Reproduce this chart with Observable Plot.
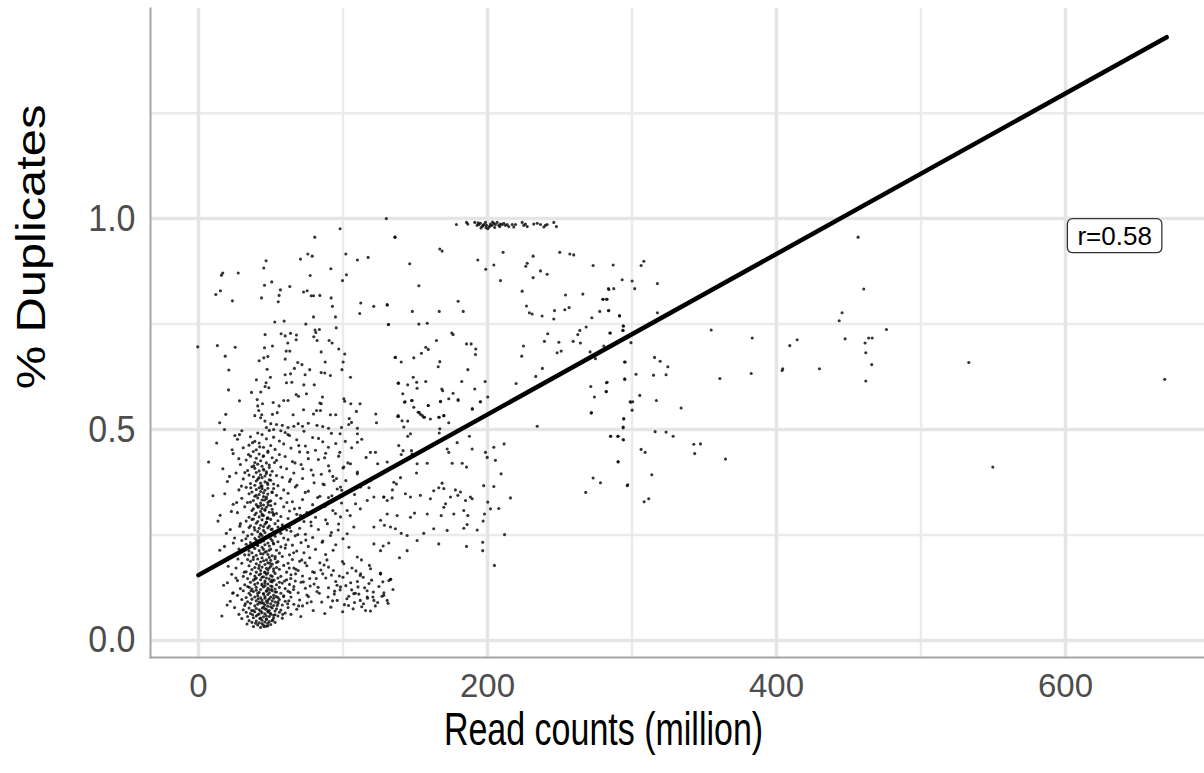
<!DOCTYPE html>
<html><head><meta charset="utf-8">
<script src="https://cdn.jsdelivr.net/npm/d3@7"></script>
<script src="https://cdn.jsdelivr.net/npm/@observablehq/plot@0.6"></script>
<style>
html,body{margin:0;padding:0;background:#fff;}
#chart svg{display:block;overflow:visible;}
</style></head><body><div id="chart"></div>
<script>
const xTicks = [0, 200, 400, 600];
const xMinor = [100, 300, 500];
const yTicks = [0, 0.5, 1.0];
const yMinor = [0.25, 0.75, 1.25];
const xTitle = "Read counts (million)";
const yTitle = "% Duplicates";
const fitX = [0, 670];
const fitY = [0.155, 1.43];
const rLabel = "r=0.58";
const rLabelX = 634;
const rLabelY = 0.958;

// upper scatter, x < 140
const upperLeft = [[98,0.976],[80.5,0.956],[136,0.956],[75.7,0.916],[78.7,0.911],[70.6,0.904],[102,0.916],[110,0.902],[117.4,0.908],[46.8,0.9],[45.2,0.883],[91.6,0.881],[16.8,0.871],[15.9,0.866],[27.5,0.871],[77.3,0.865],[102.4,0.867],[99.7,0.853],[50.7,0.85],[45.7,0.842],[63.2,0.839],[56.7,0.831],[15.2,0.829],[12,0.82],[23.5,0.805],[43.6,0.812],[55.8,0.818],[55.2,0.803],[72.7,0.826],[75.2,0.829],[78,0.817],[79.6,0.817],[84,0.818],[91.8,0.812],[92.7,0.792],[112.3,0.8],[111.6,0.775],[121.3,0.792],[130.6,0.795],[131.5,0.749],[79.6,0.767],[94.8,0.767],[52.8,0.755],[59.3,0.757],[74.3,0.75],[95.3,0.741],[80.7,0.736],[83.7,0.737],[81.2,0.73],[63.7,0.728],[57.2,0.727],[67.8,0.724],[46.1,0.725],[60,0.722],[-0.5,0.696],[13.1,0.699],[25.4,0.695],[61.8,0.705],[67.6,0.713],[79.8,0.72],[82.1,0.711],[90.4,0.711],[92.5,0.705],[45.7,0.694],[51.2,0.698],[48,0.673],[45.2,0.67],[63.2,0.686],[60.7,0.686],[97.1,0.691],[101.2,0.679],[18.5,0.674],[21,0.641],[20.8,0.594],[84.9,0.684],[60,0.667],[42,0.663],[68.7,0.659],[71.6,0.654],[66.4,0.645],[47.5,0.643],[87.7,0.66],[100.1,0.66],[99.3,0.642],[77,0.642],[84.9,0.635],[87.4,0.634],[91.3,0.628],[60,0.63],[63.7,0.632],[73.8,0.63],[105.2,0.624],[49.8,0.624],[46.8,0.611],[60.9,0.611],[64.6,0.612],[72.9,0.606],[80.1,0.606],[46.1,0.602],[48.7,0.599],[40.1,0.618],[36.7,0.588],[43.1,0.589],[67.6,0.583],[69.2,0.579],[74.7,0.585],[85.8,0.577],[84.9,0.561],[84,0.563],[100.6,0.573],[101.2,0.567],[28.4,0.568],[40.6,0.571],[44.3,0.561],[51.7,0.564],[59,0.569],[62,0.569],[55.8,0.556],[41,0.556],[41.7,0.545],[105.4,0.561],[111.8,0.561],[72.7,0.547],[79.6,0.537],[81.7,0.545],[84.4,0.545],[18.9,0.536],[14.7,0.516],[18,0.5],[28.4,0.488],[43.8,0.535],[51.2,0.536],[54.5,0.54],[65.5,0.535],[91.3,0.535],[95,0.535],[109.3,0.543],[104.3,0.526],[105.9,0.517],[122.7,0.537],[123.2,0.516],[137.9,0.531],[136.1,0.671],[138.2,0.61],
[39,0.533],[43,0.528],[46,0.52],[50,0.514],[54,0.512],[58,0.51],[62,0.505],[66,0.508],[69,0.514],[72,0.508],[76,0.515],[82,0.51],[86,0.507],[90,0.503],[99,0.505],[104,0.512],[110,0.503],[52,0.5],[57,0.497],[47,0.505]];

// band near 1.0 around 200 million
const band = [[130,1.0],[178.5,0.986],[185.5,0.991],[186.4,0.987],[191.2,0.991],[192.9,0.984],[194,0.986],[195.1,0.989],[196.3,0.981],[197.5,0.986],[198.6,0.991],[199.3,0.984],[200.2,0.976],[201.2,0.98],[202.1,0.987],[203.2,0.984],[204.4,0.989],[205.5,0.986],[206.7,0.991],[207.8,0.984],[209,0.987],[210.2,0.986],[211.3,0.989],[212.4,0.984],[213.6,0.986],[214.7,0.981],[217.1,0.986],[218.2,0.98],[219.4,0.986],[224,0.991],[225.1,0.984],[226.3,0.987],[227.5,0.981],[232,0.987],[234.4,0.989],[236.7,0.986],[239,0.98],[240.1,0.984],[241.3,0.986],[245.9,0.991],[247.7,0.981],[195.5,0.978],[199,0.979],[201.8,0.983],[205,0.979],[208.5,0.981],[193.5,0.99],[197,0.984],[203.5,0.992]];

// middle scatter 125-365
const middle = [[136,0.956],[167,0.928],[168.6,0.923],[146.2,0.893],[193.3,0.902],[198.8,0.88],[204.4,0.89],[210.8,0.92],[209,0.853],[227.5,0.894],[226.5,0.887],[231.6,0.911],[236.7,0.876],[241.3,0.868],[231.6,0.86],[250,0.92],[257,0.916],[259.7,0.914],[273.1,0.889],[287,0.89],[293.2,0.855],[152.5,0.841],[224,0.828],[254,0.819],[266,0.821],[284,0.832],[287.4,0.834],[179.7,0.804],[280,0.809],[282.8,0.809],[130.6,0.796],[148,0.78],[166.6,0.78],[183.2,0.78],[227,0.793],[229,0.777],[230.9,0.774],[237.8,0.769],[245.9,0.762],[246.4,0.782],[253.5,0.784],[256.5,0.789],[272.2,0.765],[277.7,0.78],[284,0.782],[291.5,0.769],[131.5,0.749],[152.5,0.75],[158.3,0.752],[175.3,0.729],[176.2,0.725],[185.5,0.703],[188.7,0.703],[191.9,0.691],[191.7,0.678],[164.7,0.711],[157.3,0.695],[159,0.69],[154.3,0.681],[136.3,0.671],[140.3,0.66],[149,0.67],[167,0.661],[165.9,0.649],[186.4,0.642],[138.4,0.61],[144.8,0.606],[148.6,0.624],[151,0.612],[157.3,0.614],[151.3,0.598],[168.4,0.596],[169,0.592],[176.2,0.586],[182.2,0.614],[191.2,0.596],[198.4,0.614],[141.4,0.585],[143,0.566],[147.4,0.569],[149,0.553],[159,0.557],[167.5,0.567],[173.2,0.573],[179.7,0.571],[195.1,0.566],[200.2,0.577],[189.6,0.549],[152.7,0.541],[155,0.533],[156.4,0.529],[166.6,0.529],[169.8,0.533],[138.4,0.531],
[219.8,0.609],[223.7,0.674],[224.9,0.698],[233.4,0.626],[238,0.645],[239.4,0.709],[241.7,0.727],[248.2,0.682],[251,0.686],[249.4,0.707],[259.3,0.709],[262.5,0.725],[263.9,0.735],[264.3,0.705],[268.3,0.743],[271,0.684],[271.5,0.602],[274,0.577],[274.7,0.668],[282.8,0.612],[282.1,0.59],[285.1,0.729],[293.6,0.735],[294.1,0.745],[295.3,0.66],[295,0.62],[272,0.54],[298.7,0.566],
[142.6,0.565],[147.9,0.569],[159,0.557],[167.5,0.566],[179.7,0.569],[189.4,0.549],[195.1,0.566],[138.2,0.533],[140.9,0.521],[144.8,0.52],[152,0.541],[153.6,0.536],[155.9,0.529],[160.5,0.525],[166.3,0.529],[169.8,0.533],[173.2,0.516],[142.1,0.506],[146.7,0.49],[144.8,0.484],[167,0.502],[166.6,0.492],[187.5,0.484],[271.7,0.539],[294.3,0.525],[293.9,0.504],[234.4,0.508],[285.1,0.484],[290.2,0.484],[293.9,0.476],[290.4,0.423],[273.1,0.385],[268,0.351],[296.7,0.367],
[138.6,0.462],[141.6,0.45],[140.3,0.441],[147.4,0.45],[147.9,0.442],[172.1,0.454],[173.2,0.446],[179,0.469],[189.4,0.454],[198.6,0.446],[199.8,0.434],[204.4,0.458],[211.5,0.466],[130.6,0.423],[151.3,0.419],[158.3,0.42],[175.6,0.42],[182.5,0.42],[185.5,0.411],[150.9,0.397],[139.8,0.386],[135.2,0.375],[137,0.371],[128.2,0.34],[134.2,0.357],[134,0.338],[143.2,0.348],[146.7,0.34],[153.6,0.344],[160.5,0.336],[162.8,0.355],[166.3,0.362],[168.6,0.373],[169.8,0.36],[174.4,0.34],[177.8,0.357],[179.5,0.344],[181.3,0.352],[184.8,0.332],[188.2,0.34],[189.4,0.336],[197.4,0.367],[204.4,0.365],[205.5,0.427],[209.4,0.395],[215.9,0.338],[200.2,0.328],[202.1,0.312],[207.8,0.313],[197.9,0.3],
[130.6,0.3],[137.5,0.296],[146.7,0.292],[149.5,0.302],[158.3,0.3],[168,0.296],[171,0.324],[169.8,0.316],[176.7,0.3],[183.6,0.308],[186.4,0.296],[128.7,0.273],[132.9,0.269],[136.3,0.265],[140.3,0.254],[144.4,0.249],[151.3,0.237],[155.9,0.254],[162.8,0.265],[172.1,0.261],[183.6,0.266],[185.9,0.275],[192.9,0.262],[197,0.283],[196.7,0.233],[196.7,0.213],[185.5,0.223],[166.3,0.229],[144.4,0.213],[139.1,0.196],[131.7,0.231],[127.8,0.224],[132.9,0.145],[126,0.158],[128.2,0.107],[204.8,0.178],[211.8,0.251],
[306.3,0.889],[308.2,0.899],[300.1,0.852],[301.9,0.834],[283.7,0.834],[279.8,0.809],[282.3,0.809],[283.7,0.782],[291.3,0.77],[317.6,0.846],[317.6,0.777],[293.9,0.746],[293.9,0.735],[284.6,0.729],[280.5,0.698],[299.3,0.706],[294.8,0.66],[295,0.619],[282.3,0.611],[282.3,0.59],[302.8,0.631],[314.9,0.629],[315.6,0.671],[319.5,0.662],[324.8,0.649],[323.6,0.63],[305.4,0.581],[299.2,0.565],[300.5,0.566],[300.1,0.546],[316.9,0.569],[334,0.551],[294.3,0.526],[293.9,0.506],[285.3,0.484],[290.4,0.484],[294.1,0.476],[290.4,0.424],[297.1,0.369],[316,0.495],[323.6,0.494],[328.5,0.484],[306.3,0.453],[309.1,0.446],[342.8,0.465],[347.4,0.466],[343.4,0.443],[364.7,0.43],[313.7,0.393],[308.4,0.329],[311.6,0.336],[278.2,0.374],
[98,0.49],[110,0.49],[110,0.47],[119,0.446],[122.5,0.446],[100.6,0.411],[105.2,0.419],[93.7,0.379],[98.3,0.364],[109.9,0.395],[112.2,0.364],[119.1,0.379],[121.4,0.34],[116.8,0.332],[102.9,0.308],[108.7,0.324],[98.3,0.293],[107.5,0.269],[102.9,0.253],[121.4,0.269],[126,0.285],[128.3,0.34],[130.6,0.332],[104.1,0.221],[109.9,0.198],[100.6,0.182],[112.2,0.158],[119.1,0.17],[126,0.158],[131.8,0.142],[98.3,0.127],[107.5,0.111],[116.8,0.103],[121.4,0.095],[130.6,0.095],[126,0.213],[121.4,0.229],
[92,0.155],[95,0.14],[98,0.12],[100,0.15],[102,0.13],[104,0.105],[106,0.12],[108,0.09],[110,0.14],[111,0.11],[113,0.08],[115,0.125],[117,0.1],[119,0.07],[121,0.115],[96,0.095],[101,0.085],[107,0.075],[112,0.095],[118,0.135],[124,0.09],[127,0.105],[126,0.16],[133,0.145],[90,0.125],[94,0.11],[103,0.16],[109,0.165],[114,0.15],
[62.5,.094],[65.8,.121],[69.3,.082],[72.6,.139],[76.1,.104],[79.4,.071],[82.8,.126],[85.3,.091],[88.1,.148],[91.6,.079],[94.2,.117],[97.5,.153],[99.8,.068],[102.7,.099],[105.3,.137],[108.6,.112],[111.9,.154],[114.2,.087],[116.7,.118],[119.8,.143],[122.4,.082],[124.9,.128],[128.3,.113],[131.2,.088],[134.6,.121],[67.4,.169],[73.8,.184],[80.2,.161],[86.9,.179],[93.4,.166],[99.6,.187],[106.2,.172],[112.8,.191],[118.3,.178],[58.9,.104],[63.9,.147],[70.8,.057],[77.3,.129],[83.6,.112],[89.7,.103],[95.9,.131],[103.8,.083],[110.4,.127],[115.6,.071],[120.7,.103],[127.6,.139],[75.2,.089],[81.5,.147],[87.4,.064],[92.8,.094]];

// far right outliers
const farRight = [[456.5,0.956],[460.4,0.833],[445.4,0.777],[443.4,0.758],[447.5,0.715],[461.3,0.705],[463.8,0.717],[466.2,0.717],[461.8,0.682],[465.9,0.654],[461.8,0.615],[476.1,0.737],[409.2,0.699],[414.3,0.713],[429.7,0.644],[403.9,0.64],[404.3,0.644],[383.2,0.717],[382.5,0.633],[354.8,0.736],[360.8,0.621],[533.1,0.659],[549.7,0.411],[668.7,0.619]];

// dense cluster below 0.5
const dense = [
[38,.033],[41,.037],[43,.031],[45,.036],[47,.034],[50,.038],
[35,.047],[37,.043],[40,.046],[42,.042],[44,.048],[46,.044],[48,.041],[51,.047],[53,.043],
[30,.052],[34,.057],[38,.054],[40,.058],[43,.053],[45,.056],[47,.051],[49,.057],[52,.054],[55,.058],[58,.053],
[28,.062],[33,.067],[36,.064],[39,.068],[41,.061],[44,.066],[46,.063],[48,.069],[50,.064],[53,.061],[56,.067],[60,.065],[64,.062],
[25,.078],[31,.073],[35,.077],[38,.071],[40,.076],[42,.073],[45,.079],[47,.074],[49,.071],[51,.077],[54,.075],[57,.072],[62,.078],[68,.074],
[32,.083],[36,.088],[39,.082],[41,.086],[43,.089],[46,.084],[48,.081],[50,.087],[52,.083],[55,.088],[58,.084],[66,.086],[72,.082],
[22,.093],[30,.097],[34,.092],[37,.098],[40,.094],[42,.091],[44,.096],[47,.093],[49,.099],[51,.094],[53,.091],[56,.097],[60,.093],[70,.096],[78,.092],
[27,.107],[33,.102],[36,.108],[39,.103],[41,.106],[43,.101],[46,.104],[48,.109],[50,.103],[52,.107],[55,.102],[59,.106],[64,.103],[75,.108],
[24,.113],[31,.118],[35,.112],[38,.116],[40,.119],[42,.114],[45,.111],[47,.117],[49,.113],[51,.118],[54,.115],[57,.112],[62,.117],[69,.113],[82,.116],
[29,.123],[34,.128],[37,.122],[40,.126],[43,.121],[45,.127],[48,.124],[50,.129],[53,.122],[56,.126],[60,.123],[66,.128],[74,.124],
[20,.137],[32,.132],[36,.138],[39,.133],[41,.136],[44,.131],[46,.137],[48,.134],[51,.139],[54,.132],[58,.136],[63,.133],[71,.138],[80,.134],
[27,.142],[34,.147],[38,.143],[40,.148],[43,.144],[46,.141],[49,.146],[51,.143],[55,.148],[61,.144],[67,.141],[77,.147],
[23,.157],[31,.152],[36,.158],[39,.153],[42,.156],[45,.151],[47,.157],[50,.154],[53,.159],[57,.152],[64,.156],[72,.153],[86,.158],
[33,.163],[37,.168],[40,.162],[43,.166],[46,.161],[48,.167],[52,.164],[56,.169],[61,.162],[69,.166],[79,.163],
[26,.172],[35,.177],[39,.173],[42,.178],[44,.174],[47,.171],[50,.176],[54,.173],[59,.178],[66,.172],[75,.177],[90,.174],
[30,.183],[36,.188],[40,.182],[43,.186],[45,.189],[48,.184],[51,.181],[55,.187],[62,.183],[70,.188],[84,.184],
[21,.197],[34,.192],[38,.198],[41,.193],[44,.196],[47,.191],[49,.197],[53,.194],[58,.199],[65,.192],[77,.196],
[32,.203],[37,.208],[40,.202],[43,.206],[46,.209],[48,.204],[51,.201],[56,.207],[63,.203],[73,.208],[88,.204],
[28,.217],[35,.212],[39,.218],[42,.213],[45,.216],[47,.211],[50,.217],[54,.214],[60,.219],[68,.212],[81,.216],
[18,.223],[33,.228],[38,.222],[41,.226],[44,.221],[46,.227],[49,.224],[52,.229],[57,.222],[65,.226],[76,.223],[95,.227],
[30,.237],[36,.232],[40,.238],[43,.233],[45,.236],[48,.231],[51,.237],[55,.234],[62,.239],[71,.232],[86,.236],
[25,.243],[34,.248],[39,.242],[42,.246],[44,.249],[47,.244],[50,.241],[53,.247],[59,.243],[67,.248],[79,.244],[100,.241],
[31,.257],[37,.252],[41,.258],[43,.253],[46,.256],[49,.251],[52,.257],[57,.254],[64,.259],[74,.252],[92,.256],
[22,.263],[35,.268],[39,.262],[42,.266],[45,.261],[48,.267],[51,.264],[55,.269],[61,.262],[70,.266],[83,.263],
[29,.277],[36,.272],[40,.278],[43,.273],[46,.276],[49,.271],[53,.277],[58,.274],[66,.279],[78,.272],[97,.276],
[33,.283],[38,.288],[41,.282],[44,.286],[47,.281],[50,.287],[55,.284],[62,.289],[73,.282],[88,.286],
[15,.297],[35,.292],[39,.298],[42,.293],[45,.296],[48,.291],[52,.297],[57,.294],[68,.299],[81,.292],[105,.296],
[27,.303],[37,.308],[40,.302],[43,.306],[46,.309],[49,.304],[54,.301],[63,.307],[75,.303],[93,.308],
[32,.317],[38,.312],[41,.318],[44,.313],[47,.316],[51,.311],[59,.317],[70,.314],[86,.319],[112,.312],
[24,.323],[36,.328],[40,.322],[43,.326],[45,.321],[48,.327],[53,.324],[65,.329],[79,.322],[99,.326],
[30,.337],[38,.332],[41,.338],[44,.333],[47,.336],[50,.331],[57,.337],[72,.334],[90,.339],
[10,.343],[35,.348],[39,.342],[42,.346],[45,.341],[48,.347],[54,.344],[62,.349],[84,.342],[108,.346],
[28,.357],[37,.352],[40,.358],[43,.353],[46,.356],[51,.351],[59,.357],[76,.354],[96,.359],
[33,.363],[39,.368],[42,.362],[44,.366],[48,.361],[55,.367],[67,.364],[87,.369],[118,.362],
[20,.377],[36,.372],[40,.378],[43,.373],[46,.376],[52,.371],[63,.377],[80,.374],[102,.379],
[31,.383],[38,.388],[41,.382],[44,.386],[49,.381],[58,.387],[72,.384],[93,.389],
[26,.397],[35,.392],[40,.398],[43,.393],[47,.396],[54,.391],[66,.397],[85,.394],[110,.399],
[34,.403],[39,.408],[42,.402],[45,.406],[51,.401],[61,.407],[78,.404],[100,.409],
[29,.417],[37,.412],[41,.418],[44,.413],[49,.416],[57,.411],[71,.417],[90,.414],[124,.419],
[7,.423],[33,.428],[39,.422],[43,.426],[47,.421],[54,.427],[65,.424],[83,.429],
[36,.437],[40,.432],[45,.438],[51,.433],[60,.436],[76,.431],[97,.437],[116,.434],
[24,.443],[38,.448],[42,.442],[48,.446],[56,.441],[70,.447],[88,.444],
[31,.457],[40,.452],[45,.458],[53,.453],[64,.456],[81,.451],[106,.457],
[35,.463],[42,.468],[50,.462],[59,.466],[74,.461],[95,.467],
[27,.477],[39,.472],[47,.478],[56,.473],[68,.476],[86,.471],[113,.477],
[36,.483],[44,.488],[52,.482],[63,.486],[79,.481],
[30,.497],[41,.492],[49,.498],[60,.493],[73,.496],[92,.491],
[44,.04],[47,.05],[49,.045],[52,.06],[43,.07],[46,.075],[50,.08],[53,.07],[44,.09],[48,.095],[52,.1],[45,.11],[49,.12],[53,.115],[46,.13],[50,.14],[44,.15],[48,.16],[52,.17],[46,.18],[50,.19],[47,.058],[45,.088],[51,.128],[47,.148],[49,.172],[42,.063],[55,.092],[41,.112],[56,.138],[43,.158],[54,.185],[48,.035],[50,.062],[46,.1],[51,.152],
[45,.27],[48,.29],[46,.31],[49,.33],[45,.35],[48,.37],[46,.39],[49,.41],[47,.28],[44,.3],[50,.32],[47,.34],[44,.36],[50,.38],[47,.4],[52,.3],[52,.36],[43,.32],
[39.5,.041],[42.5,.052],[45.5,.033],[48.5,.067],[51.5,.049],[54.5,.083],[37.5,.061],[44.2,.077],[47.8,.089],[41.3,.099],[53.7,.104],[36.4,.118],[50.6,.121],[43.9,.134],[47.1,.118],[39.2,.146],[52.3,.143],[45.8,.162],[41.7,.171],[49.4,.183],[37.9,.192],[53.1,.199],[44.6,.205],[48.9,.214],[40.8,.226],[51.8,.231],[46.3,.244],[42.9,.252],[50.2,.263],[38.6,.268],[47.5,.289],[44.1,.297],[51.2,.304],[41.4,.316],[48.2,.321],[45.7,.333],[39.9,.344],[50.9,.352],[43.3,.366],[47.6,.374],[41.8,.386],[49.7,.392],[45.2,.404],[38.3,.414],[52.6,.422],[44.8,.436],[48.1,.449],[42.4,.459],
[58.3,.062],[61.7,.087],[63.4,.114],[59.6,.141],[67.2,.158],[62.8,.172],[71.5,.191],[65.9,.208],[60.4,.227],[74.3,.238],[68.7,.251],[63.1,.268],[77.8,.281],[70.6,.297],[66.4,.312],[61.2,.327],[82.5,.339],[73.9,.351],[68.1,.368],[63.7,.382],[79.4,.392],[72.2,.407],[66.8,.421],[87.3,.433],[75.6,.446],[69.4,.462],[83.1,.479],[61.9,.488],
[84.7,.167],[88.9,.191],[93.2,.214],[85.6,.233],[91.4,.249],[96.7,.262],[89.2,.277],[94.8,.301],[87.6,.318],[92.3,.343],[99.1,.356],[86.2,.371],[95.5,.384],[90.7,.402],[103.4,.421],[97.8,.446],[89.9,.458],[101.6,.472],
[16.2,.058],[19.8,.084],[23.7,.112],[17.4,.131],[25.9,.148],[20.6,.176],[27.3,.193],[14.8,.214],[24.1,.231],[19.3,.254],[28.6,.271],[13.5,.283],[22.8,.306],[26.4,.327],[18.2,.348],[29.7,.366],[21.5,.389],[16.9,.407],[27.9,.431],[23.3,.452],[12.6,.468],[25.2,.486],
[33.6,.039],[36.8,.071],[32.4,.087],[35.2,.126],[31.7,.162],[34.9,.203],[32.8,.241],[37.1,.287],[33.9,.327],[36.2,.362],[32.1,.398],[34.6,.441],[37.4,.469]];

const points = [...upperLeft, ...band, ...middle, ...farRight, ...dense];
const fit = fitX.map((x, i) => ({x, y: fitY[i]}));

const font = "'Liberation Sans', Arial, Helvetica, sans-serif";
const chart = Plot.plot({
  width: 1204,
  height: 773,
  marginLeft: 150,
  marginRight: 0,
  marginTop: 8,
  marginBottom: 116,
  style: {fontFamily: font, background: "#fff"},
  x: {domain: [-33.2, 696.2]},
  y: {domain: [-0.0403, 1.498]},
  marks: [
    Plot.ruleX(xMinor, {stroke: "#ebebeb", strokeWidth: 2.5}),
    Plot.ruleY(yMinor, {stroke: "#ebebeb", strokeWidth: 2.5}),
    Plot.ruleX(xTicks, {stroke: "#e5e5e5", strokeWidth: 3.5}),
    Plot.ruleY(yTicks, {stroke: "#e5e5e5", strokeWidth: 3.5}),
    Plot.frame({anchor: "left", stroke: "#a6a6a6", strokeWidth: 2}),
    Plot.frame({anchor: "bottom", stroke: "#a6a6a6", strokeWidth: 2}),
    Plot.axisX(xTicks, {tickSize: 0, tickPadding: 16, fontSize: 33, color: "#4d4d4d", label: null}),
    Plot.axisY(yTicks, {tickSize: 0, tickPadding: 15, fontSize: 34, color: "#4d4d4d", label: null, tickFormat: d3.format(".1f")}),
    Plot.dot(points, {x: d => d[0], y: d => d[1], r: 1.55, fill: "#111", fillOpacity: 0.85, stroke: null}),
    Plot.line(fit, {x: "x", y: "y", stroke: "#000", strokeWidth: 4.5}),
    Plot.text([rLabel], {x: () => rLabelX, y: () => rLabelY, fontSize: 26, fill: "#000", className: "rlabel"}),
    Plot.text([xTitle], {frameAnchor: "bottom", textAnchor: "middle", lineAnchor: "middle", dx: -74, dy: 73, fontSize: 34, fill: "#000", className: "xtitle"}),
    Plot.text([yTitle], {frameAnchor: "left", textAnchor: "middle", lineAnchor: "middle", rotate: -90, dx: -119, dy: -86, fontSize: 41, fill: "#000", className: "ytitle"})
  ]
});
document.getElementById("chart").appendChild(chart);
const root = d3.select(chart);

// reference text is drawn taller than regular Arial proportions
function stretch(sel, sx, sy) {
  sel.each(function() {
    const t = this.getAttribute("transform") || "";
    this.setAttribute("transform", `${t} scale(${sx},${sy})`);
  });
}
stretch(root.selectAll('g[aria-label="y-axis tick label"] text'), 1, 1.1);
stretch(root.selectAll('.xtitle text'), 1, 1.35);
stretch(root.selectAll('.ytitle text'), 1.19, 1);

// rounded box around the correlation label
const lab = root.select(".rlabel text");
if (!lab.empty()) {
  const bb = lab.node().getBBox();
  const g = d3.select(lab.node().parentNode);
  g.insert("rect", "text")
    .attr("x", bb.x - 10).attr("y", bb.y - 2)
    .attr("width", bb.width + 20).attr("height", bb.height + 4)
    .attr("rx", 5).attr("ry", 5)
    .attr("fill", "#fff").attr("stroke", "#333").attr("stroke-width", 1.3)
    .attr("transform", lab.attr("transform"));
}
</script>
</body></html>
